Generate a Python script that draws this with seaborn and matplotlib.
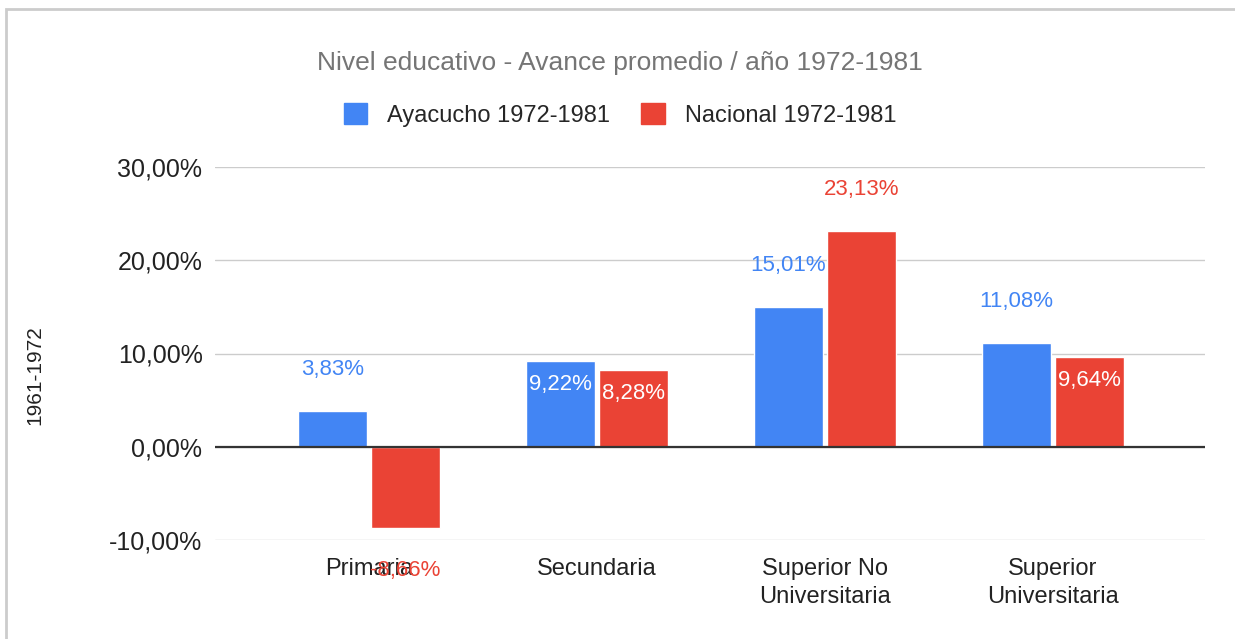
import pandas as pd
import seaborn as sns
import matplotlib.pyplot as plt
from matplotlib.patches import Rectangle
from matplotlib.ticker import FuncFormatter

# data
niveles = ["Primaria", "Secundaria", "Superior No\nUniversitaria", "Superior\nUniversitaria"]
ayacucho = [3.83, 9.22, 15.01, 11.08]
nacional = [-8.66, 8.28, 23.13, 9.64]
series = ["Ayacucho 1972-1981", "Nacional 1972-1981"]
colores = ["#4285F4", "#EA4335"]

df = pd.DataFrame({
    "Nivel": niveles * 2,
    "Valor": ayacucho + nacional,
    "Serie": [series[0]] * 4 + [series[1]] * 4,
})

sns.set_style("white")
plt.rcParams["font.family"] = ["Liberation Sans", "DejaVu Sans"]

fig = plt.figure(figsize=(12.35, 6.39), dpi=100)
ax = fig.add_axes([215 / 1235, 1 - 540 / 639, 990 / 1235, 373 / 639])

sns.barplot(data=df, x="Nivel", y="Valor", hue="Serie", palette=colores,
            width=0.645, gap=0.06, ax=ax, legend=False, saturation=1)

ax.set_ylim(-10, 30)
ax.set_xlim(-0.675, 3.667)
ax.set_yticks([-10, 0, 10, 20, 30])
ax.yaxis.set_major_formatter(FuncFormatter(lambda v, p: f"{v:.2f}".replace(".", ",") + "%"))
ax.grid(axis="y", color="#cccccc", lw=1)
ax.axhline(0, color="#333333", lw=1.6, zorder=3)
for s in ax.spines.values():
    s.set_visible(False)
ax.tick_params(axis="both", length=0, colors="#222222")
ax.tick_params(axis="y", pad=9, labelsize=18)
ax.tick_params(axis="x", pad=13, labelsize=17)
for t in ax.get_xticklabels():
    t.set_linespacing(1.35)
ax.set_xlabel("")
ax.set_ylabel("")

# data labels
for cont, col in zip(ax.containers, colores):
    for bar in cont:
        v = bar.get_height()
        x = bar.get_x() + bar.get_width() / 2
        txt = f"{v:.2f}".replace(".", ",") + "%"
        if 5 < v < 10:
            ax.annotate(txt, (x, v), xytext=(0, -17), textcoords="offset points",
                        ha="center", va="center", fontsize=16, color="white", zorder=5)
        elif v >= 0:
            ax.annotate(txt, (x, v), xytext=(0, 30), textcoords="offset points",
                        ha="center", va="center", fontsize=16, color=col, zorder=5)
        else:
            ax.annotate(txt, (x, v), xytext=(0, -31), textcoords="offset points",
                        ha="center", va="center", fontsize=16, color=col, zorder=5)

fig.text(35 / 1235, 1 - 375 / 639, "1961-1972", rotation=90, ha="center", va="center",
         fontsize=15, color="#222222")
fig.text(620 / 1235, 1 - 63 / 639, "Nivel educativo - Avance promedio / año 1972-1981",
         ha="center", va="center", fontsize=19, color="#757575")

handles = [Rectangle((0, 0), 1, 1, color=c) for c in colores]
fig.legend(handles, series, loc="center", bbox_to_anchor=(620 / 1235, 1 - 115 / 639),
           ncol=2, frameon=False, fontsize=17, handlelength=1.0, handleheight=1.0,
           handletextpad=0.85, columnspacing=1.3)

# outer frame
fig.patches.append(Rectangle((6 / 1235, -0.1), 1.2, 1 - 9 / 639 + 0.1, transform=fig.transFigure,
                             fill=False, edgecolor="#cccccc", lw=2))

plt.savefig("out.png", dpi=100)
